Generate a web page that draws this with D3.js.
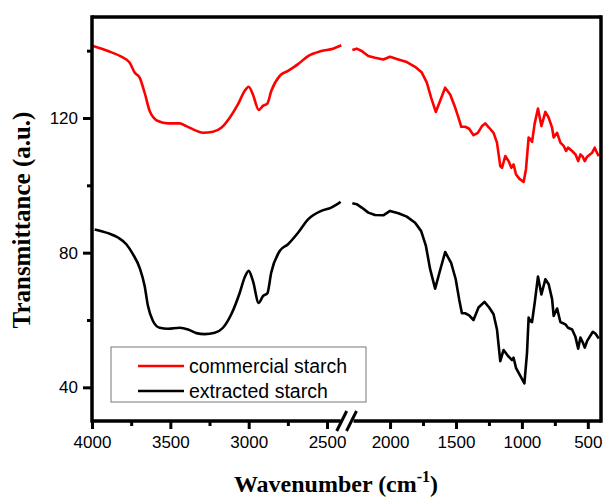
<html>

<head>
    <script src="https://d3js.org/d3.v7.min.js"></script>
    <style>
        body { margin: 0; background: #fff; }
        .tick text { font-family: "Liberation Sans", Arial, sans-serif; font-size: 17px; fill: #000; }
        .tick line { stroke: #000; stroke-width: 3; }
        .domain { display: none; }
    </style>
</head>

<body>
    <svg height="499" width="605" id="ftirSvg"></svg>
    <script>
        // commercial starch (red)
        const commercialWn = [3994, 3898, 3813, 3759, 3728, 3696, 3664, 3632, 3579, 3515, 3440, 3398, 3345, 3292, 3228, 3175,
            3121, 3068, 3026, 3000, 2973, 2936, 2909, 2881, 2856, 2802, 2749, 2685, 2621, 2537, 2462, 2409,
            2286, 2253, 2215, 2165, 2114, 2051, 2000, 1937, 1873, 1810, 1759, 1721, 1688, 1653, 1620, 1582,
            1544, 1506, 1481, 1460, 1430, 1400, 1367, 1334, 1303, 1278, 1248, 1215, 1189, 1164, 1151, 1126,
            1101, 1080, 1063, 1045, 1020, 987, 969, 949, 936, 923, 903, 878, 852, 822, 797, 771, 759, 733,
            708, 683, 665, 650, 619, 594, 573, 556, 538, 523, 505, 467, 447, 437, 417];
        const commercialT = [141.4, 139.9, 138.2, 136.4, 133.5, 132.0, 127.5, 122.1, 119.1, 118.4, 118.4, 117.6, 116.4, 115.6, 115.9, 117.1,
            120.1, 124.1, 128.0, 129.3, 127.0, 122.4, 123.6, 124.3, 128.0, 132.5, 134.0, 136.0, 138.4, 139.9, 140.6, 141.6,
            140.2, 140.6, 139.9, 138.4, 137.9, 137.4, 138.2, 137.4, 136.6, 135.2, 133.5, 130.5, 126.0, 121.8, 125.1, 129.0,
            127.0, 123.1, 120.1, 117.4, 117.4, 116.8, 114.9, 115.6, 117.6, 118.4, 117.1, 115.6, 112.7, 105.7, 105.2, 108.7,
            107.2, 105.2, 106.2, 103.3, 102.0, 101.0, 104.8, 114.2, 113.7, 112.9, 118.4, 122.8, 117.6, 121.8, 120.1, 117.1, 114.2, 115.6,
            112.7, 111.7, 110.2, 111.2, 110.2, 109.2, 107.2, 109.2, 108.5, 107.2, 108.5, 109.7, 111.2, 110.2, 108.7];

        // extracted starch (black)
        const extractedWn = [3983, 3898, 3834, 3781, 3738, 3696, 3664, 3643, 3611, 3568, 3515, 3440, 3387, 3334, 3281, 3217,
            3164, 3111, 3057, 3026, 3000, 2973, 2936, 2909, 2881, 2856, 2802, 2749, 2685, 2621, 2537, 2473, 2413,
            2286, 2253, 2215, 2165, 2114, 2051, 2000, 1937, 1873, 1810, 1764, 1728, 1696, 1658, 1625, 1582,
            1537, 1502, 1476, 1455, 1430, 1400, 1367, 1329, 1284, 1248, 1215, 1189, 1164, 1139, 1105, 1075,
            1063, 1045, 1012, 981, 961, 949, 936, 923, 903, 878, 852, 822, 797, 771, 759, 733, 708, 670,
            650, 619, 594, 573, 556, 538, 523, 505, 462, 441, 417];
        const extractedT = [86.9, 85.8, 84.5, 82.5, 79.5, 75.5, 70.1, 64.2, 59.7, 57.7, 57.4, 57.7, 57.2, 56.1, 55.8, 56.2,
            57.7, 61.7, 68.1, 72.6, 74.6, 71.6, 65.1, 67.1, 67.9, 74.1, 80.5, 82.5, 85.9, 89.9, 92.4, 93.4, 95.1,
            94.7, 94.4, 93.4, 91.9, 91.2, 91.1, 92.4, 91.7, 90.7, 88.9, 86.4, 82.0, 75.1, 69.3, 74.1, 80.2,
            77.0, 72.1, 66.2, 62.0, 62.0, 61.4, 60.0, 63.7, 65.4, 63.7, 61.7, 57.2, 47.8, 51.1, 49.3, 48.1,
            48.8, 45.8, 43.4, 41.2, 50.3, 60.7, 59.7, 59.4, 65.1, 72.9, 67.6, 72.1, 70.6, 66.2, 61.2, 63.4, 59.4, 58.7,
            57.7, 57.2, 55.0, 51.5, 54.8, 53.3, 51.8, 53.8, 56.5, 55.9, 54.5];

        const leftTicks = [4000, 3500, 3000, 2500];
        const leftMinor = [3750, 3250, 2750];
        const rightTicks = [2000, 1500, 1000, 500];
        const rightMinor = [1750, 1250, 750];
        const yTicks = [40, 80, 120];
        const yMinor = [60, 100, 140];

        const series = [
            { name: "commercial starch", color: "#ff0000", wn: commercialWn, t: commercialT },
            { name: "extracted starch", color: "#000000", wn: extractedWn, t: extractedT }
        ];

        const svg = d3.select("#ftirSvg");
        const margins = { top: 17, right: 4, bottom: 78, left: 92 };
        const width = +svg.attr("width");
        const height = +svg.attr("height");
        const chartWidth = width - margins.left - margins.right;
        const chartHeight = height - margins.top - margins.bottom;

        // broken x axis: two segments
        const breakLeft = 250.7, breakRight = 258.5;
        const xLeft = d3.scaleLinear().domain([4000, 2400]).range([0, breakLeft]);
        const xRight = d3.scaleLinear().domain([2300, 400]).range([breakRight, chartWidth]);
        const yScale = d3.scaleLinear().domain([30, 150]).range([chartHeight, 0]);
        const fmt = d3.format("d");

        let chartArea = svg.append("g")
            .attr("transform", `translate(${margins.left},${margins.top})`);

        // curves
        series.forEach(s => {
            const pts = s.wn.map((w, i) => [w, s.t[i]]);
            const leftPts = pts.filter(p => p[0] >= 2400);
            const rightPts = pts.filter(p => p[0] <= 2300);
            chartArea.append("path")
                .datum(leftPts)
                .attr("fill", "none")
                .attr("stroke", s.color)
                .attr("stroke-width", 2.6)
                .attr("stroke-linejoin", "round")
                .attr("d", d3.line().x(d => xLeft(d[0])).y(d => yScale(d[1])).curve(d3.curveMonotoneX));
            chartArea.append("path")
                .datum(rightPts)
                .attr("fill", "none")
                .attr("stroke", s.color)
                .attr("stroke-width", 2.6)
                .attr("stroke-linejoin", "round")
                .attr("d", d3.line().x(d => xRight(d[0])).y(d => yScale(d[1])));
        });

        // axes ticks
        const xAxisG = chartArea.append("g").attr("transform", `translate(0,${chartHeight})`);
        xAxisG.append("g").call(d3.axisBottom(xLeft).tickValues(leftTicks).tickSize(8).tickPadding(7).tickFormat(fmt));
        xAxisG.append("g").call(d3.axisBottom(xLeft).tickValues(leftMinor).tickSize(5).tickFormat(""));
        xAxisG.append("g").call(d3.axisBottom(xRight).tickValues(rightTicks).tickSize(8).tickPadding(7).tickFormat(fmt));
        xAxisG.append("g").call(d3.axisBottom(xRight).tickValues(rightMinor).tickSize(5).tickFormat(""));

        chartArea.append("g").call(d3.axisLeft(yScale).tickValues(yTicks).tickSize(9).tickPadding(5).tickFormat(fmt));
        chartArea.append("g").call(d3.axisLeft(yScale).tickValues(yMinor).tickSize(5).tickFormat(""));

        // frame
        const frame = chartArea.append("g")
            .attr("stroke", "#000")
            .attr("stroke-width", 3.5)
            .attr("fill", "none");
        frame.append("line").attr("x1", 0).attr("x2", chartWidth).attr("y1", 0).attr("y2", 0);
        frame.append("line").attr("x1", 0).attr("x2", 0).attr("y1", -1.75).attr("y2", chartHeight + 1.75);
        frame.append("line").attr("x1", chartWidth).attr("x2", chartWidth).attr("y1", -1.75).attr("y2", chartHeight + 1.75);
        frame.append("line").attr("x1", 0).attr("x2", breakLeft - 2).attr("y1", chartHeight).attr("y2", chartHeight);
        frame.append("line").attr("x1", breakRight + 3).attr("x2", chartWidth).attr("y1", chartHeight).attr("y2", chartHeight);

        // break marks
        [breakLeft - 1, breakRight + 1].forEach(cx => {
            frame.append("line")
                .attr("x1", cx - 5).attr("y1", chartHeight + 10)
                .attr("x2", cx + 5).attr("y2", chartHeight - 10)
                .attr("stroke-width", 3);
        });

        // axis labels
        svg.append("text")
            .attr("text-anchor", "middle")
            .attr("transform", `translate(30,220) rotate(-90)`)
            .style("font-family", "'Liberation Serif', 'Times New Roman', serif")
            .style("font-weight", "bold")
            .style("font-size", "25px")
            .text("Transmittance (a.u.)");

        const xLabel = svg.append("text")
            .attr("text-anchor", "middle")
            .attr("x", 336)
            .attr("y", 492)
            .style("font-family", "'Liberation Serif', 'Times New Roman', serif")
            .style("font-weight", "bold")
            .style("font-size", "24px");
        xLabel.append("tspan").text("Wavenumber (cm");
        xLabel.append("tspan").attr("dy", -10).style("font-size", "16px").text("-1");
        xLabel.append("tspan").attr("dy", 10).text(")");

        // legend
        const legend = svg.append("g");
        legend.append("rect")
            .attr("x", 111).attr("y", 347)
            .attr("width", 255).attr("height", 55)
            .attr("fill", "#fff")
            .attr("stroke", "#777")
            .attr("stroke-width", 1);
        series.forEach((s, i) => {
            const ly = 366 + i * 25;
            legend.append("line")
                .attr("x1", 138).attr("x2", 184)
                .attr("y1", ly).attr("y2", ly)
                .attr("stroke", s.color)
                .attr("stroke-width", 2.6);
            legend.append("text")
                .attr("x", 189).attr("y", ly + 7)
                .style("font-family", "'Liberation Sans', Arial, sans-serif")
                .style("font-size", "19.5px")
                .text(s.name);
        });
    </script>
</body>

</html>
